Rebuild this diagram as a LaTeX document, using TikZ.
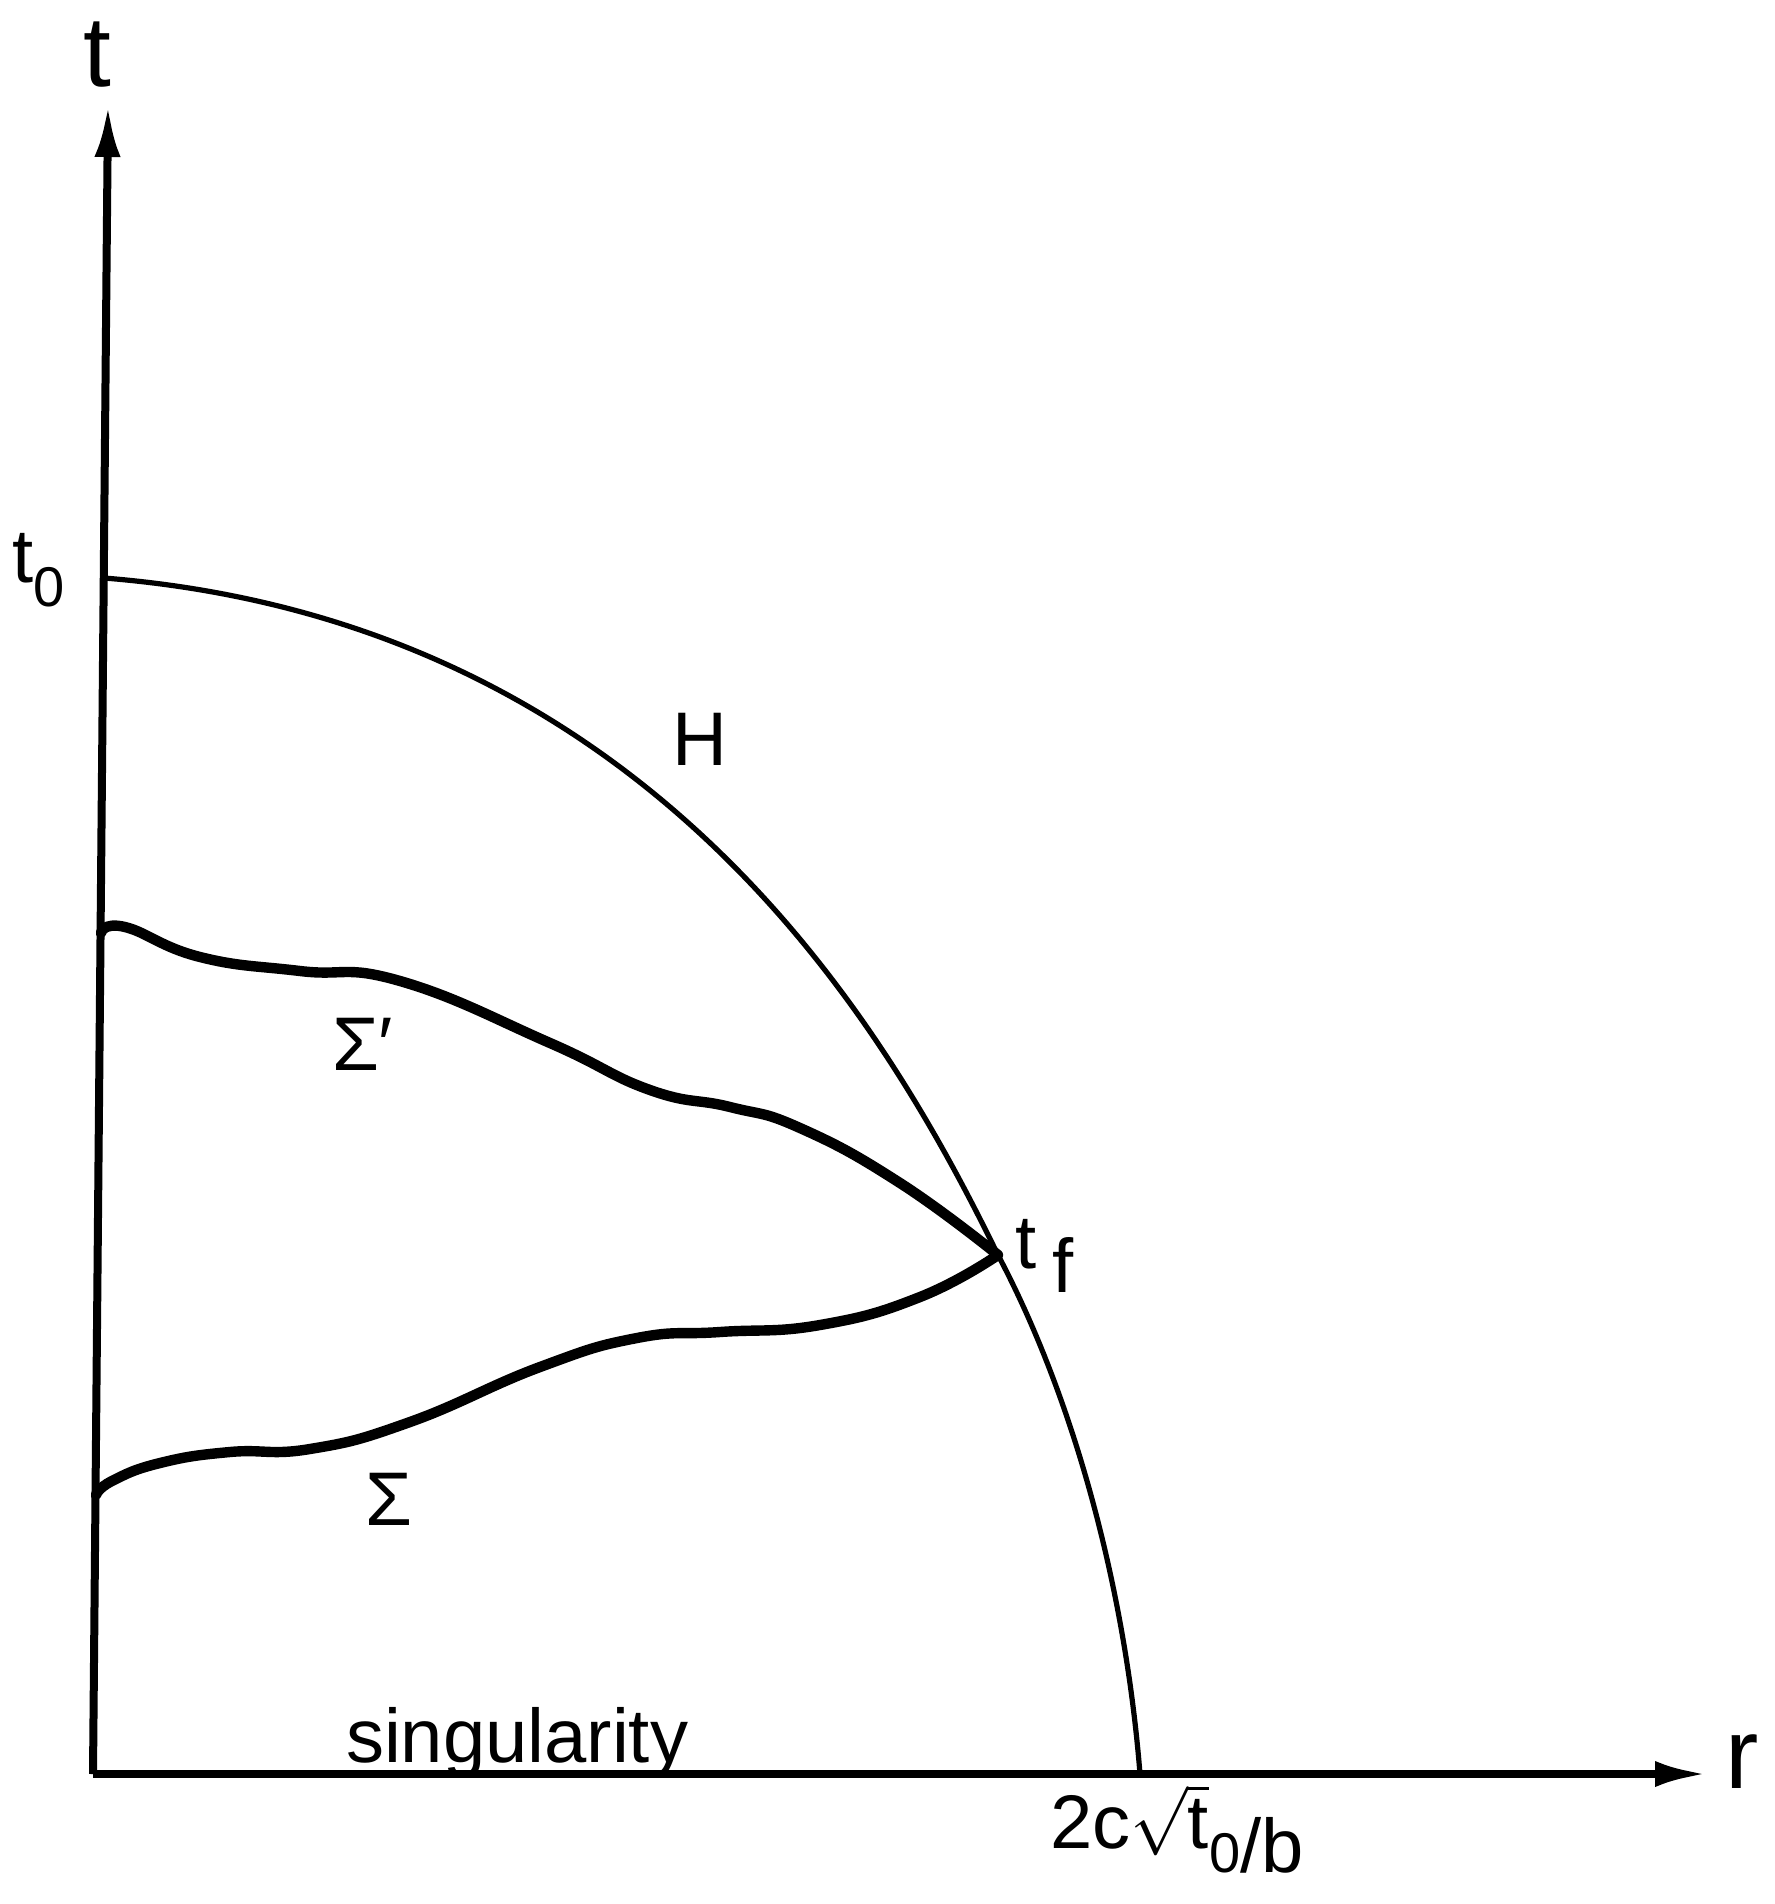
\documentclass[tikz,border=0pt]{standalone}
\usepackage{fontspec}
\setmainfont{Liberation Sans}
\usetikzlibrary{arrows.meta}

\newcommand{\lowsub}[1]{\raisebox{-6pt}{#1}}
\newcommand{\smallzero}{{\fontsize{14pt}{14pt}\selectfont 0}}

\tikzset{every picture/.style={line width=0.75pt}}
\tikzset{
  axisline/.style={line width=2pt, -{Latex[length=13pt,width=6.5pt]}},
  horizon/.style={line width=1.3pt},
  slice/.style={line width=2.6pt, line cap=round, line join=round},
  lbl/.style={inner sep=0pt, outer sep=0pt, font=\fontsize{19pt}{19pt}\selectfont},
  axlbl/.style={inner sep=0pt, outer sep=0pt, font=\fontsize{25pt}{25pt}\selectfont},
}

\begin{document}
\begin{tikzpicture}[x=0.25pt,y=0.25pt,yscale=-1,xscale=1]
	\path[use as bounding box] (0,0) rectangle (1775,1904);

	\coordinate (O) at (93,1774);
	\coordinate (ttip) at (108,105);
	\coordinate (rtip) at (1707,1774);
	\coordinate (t0) at (104,578);
	\coordinate (tf) at (998,1255);
	\coordinate (hr) at (1140,1774);
	\coordinate (sp0) at (101,933);
	\coordinate (s0) at (96,1495);

	%Straight Lines [axes]
	\draw [axisline] (O) -- (ttip);
	\draw [axisline] (O) -- (rtip);

	%Curve Lines [H]
	\draw [horizon] (t0) .. controls (654,622) and (888,1030) .. (tf) .. controls (1068,1387) and (1124,1574) .. (hr);
	%Curve Lines [Sigma']
	\draw [slice] plot [smooth, tension=0.8] coordinates {(sp0) (125,927) (200,957) (300,971) (400,981) (550,1043) (650,1090) (730,1107) (800,1128) (900,1183) (tf)};
	%Curve Lines [Sigma]
	\draw [slice] plot [smooth, tension=0.8] coordinates {(s0) (112,1481) (160,1463) (230,1452) (310,1449) (410,1422) (540,1367) (637,1338) (720,1332) (820,1325) (920,1297) (tf)};

	% Text Node
	\draw (97,87) node [axlbl, anchor=base] (lblt) {t};
	% Text Node
	\draw (1725,1788) node [axlbl, anchor=base west] (lblr) {r};
	% Text Node
	\draw (12,582) node [lbl, anchor=base west] (lblto) {t\lowsub{\smallzero}};
	% Text Node
	\draw (672,765) node [lbl, anchor=base west] (lblH) {H};
	% Text Node
	\draw (332,1070) node [lbl, anchor=base west] (lblsigp) {Σ′};
	% Text Node
	\draw (365,1525) node [lbl, anchor=base west] (lblsig) {Σ};
	% Text Node
	\draw (1015,1268) node [lbl, anchor=base west] (lbltf) {t\hspace{4pt}\lowsub{f}};
	% Text Node
	\draw (346,1762) node [lbl, anchor=base west] (lblsing) {singularity};
	% Text Node
	\draw (1050,1848) node [lbl, anchor=base west] (lblroot) {2c$\sqrt{\mbox{t}}$\lowsub{\smallzero/b}};

\end{tikzpicture}
\end{document}
